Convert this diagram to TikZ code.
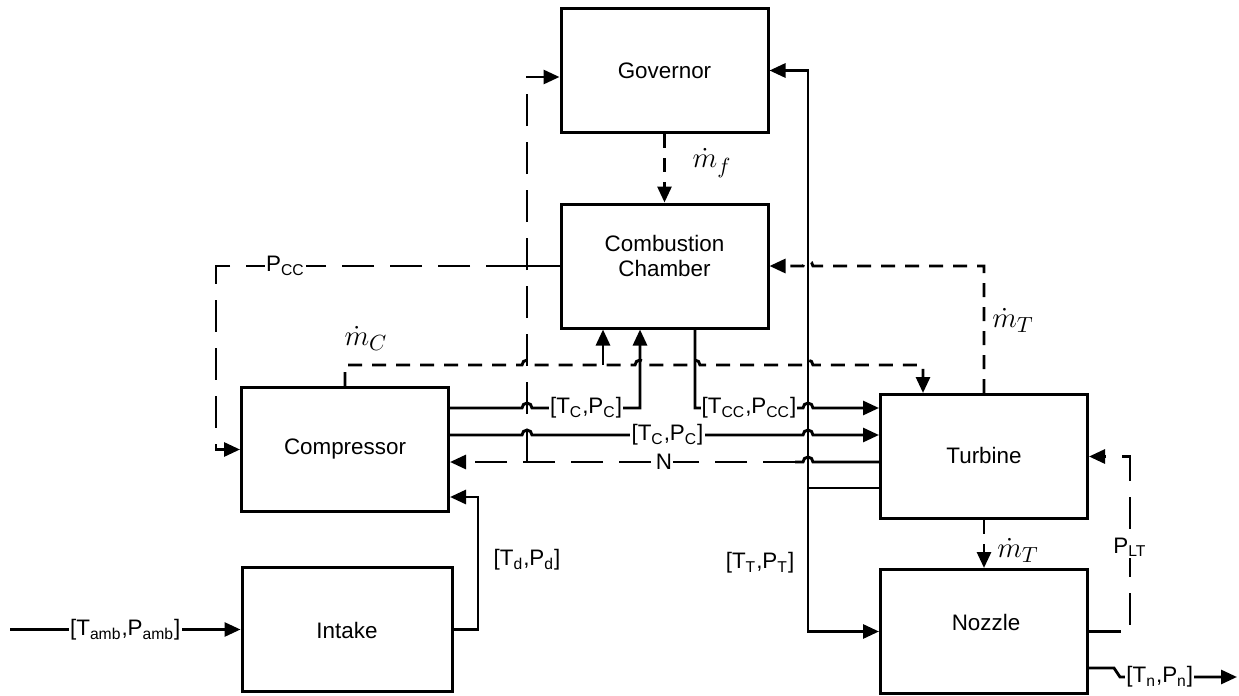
\documentclass[tikz,border=0pt]{standalone}
\usepackage{fontspec}
\setmainfont{Liberation Sans}
\usetikzlibrary{arrows.meta,calc}
\begin{document}
\begin{tikzpicture}[x=0.5pt,y=0.5pt,
  box/.style={draw,line width=1.5pt,minimum width=103.5pt,minimum height=62pt,inner sep=0pt},
  txt/.style={font=\fontsize{11.2}{12.5}\selectfont,inner sep=1pt},
  lbl/.style={font=\fontsize{11.2}{13}\selectfont,fill=white,inner sep=0.6pt},
  plbl/.style={font=\fontsize{11.2}{13}\selectfont,inner sep=0.6pt},
  wire/.style={line width=1.45pt},
  arr/.style={-{Triangle[length=8pt,width=7pt]}},
  sdash/.style={dash pattern=on 7pt off 5pt},
  ldash/.style={dash pattern=on 16pt off 8pt},
  mlbl/.style={font=\fontsize{15}{17}\selectfont,inner sep=0pt}
]
\useasboundingbox (0,0) rectangle (1239,-696);

% boxes
\node[box] (gov) at (664.5,-70.5) {};
\node[txt] (govt) at (664.5,-71) {Governor};
\node[box] (cc) at (664.5,-266) {};
\node[txt,align=center] (cct) at (664.5,-256) {Combustion\\Chamber};
\node[box] (comp) at (345,-449.5) {};
\node[txt] (compt) at (345,-449) {Compressor};
\node[box,minimum width=105pt] (intk) at (347,-629.5) {};
\node[txt] (intkt) at (347,-630) {Intake};
\node[box] (turb) at (984,-456.5) {};
\node[txt] (turbt) at (984,-455) {Turbine};
\node[box] (noz) at (984,-631.5) {};
\node[txt] (nozt) at (986,-622) {Nozzle};

% coordinates
\coordinate (src) at (10,-629.5);
\coordinate (tdc) at (478,-497);
\coordinate (nj) at (527,-462);
\coordinate (gj) at (527,-77);
\coordinate (mc1) at (345,-365);
\coordinate (mc2) at (923,-365);
\coordinate (mcj) at (603,-365);
\coordinate (tc1) at (640,-408);
\coordinate (tc2y) at (0,-435);
\coordinate (tcc) at (695,-408);
\coordinate (tt) at (808,-488);
\coordinate (pc0) at (518,-266);
\coordinate (pc1) at (216,-266);
\coordinate (pl) at (1130,-456.5);
\coordinate (tn1) at (1114,-668);
\coordinate (tn2) at (1237,-677);

% ambient -> intake
\draw[wire,arr] (src) -- node[lbl,name=lamb]{[T\textsubscript{amb},P\textsubscript{amb}]} (intk.west);
% intake -> compressor
\draw[wire,arr] (intk.east) -| (tdc) -- (tdc -| comp.east);
\node[plbl] (ltd) at (527,-560) {[T\textsubscript{d},P\textsubscript{d}]};

% N : turbine -> compressor and governor
\draw[wire] (turb.west |- nj) -- (813,-462) arc[start angle=0,end angle=180,radius=2.5pt] -- (795,-462);
\draw[wire,ldash,arr] (795,-462) -- node[lbl,pos=0.38,name=ln]{N} (comp.east |- nj);
\draw[wire,ldash,arr] (nj) -- (gj) -- (gj -| gov.west);

% mdot_C : compressor -> turbine and combustion chamber
\draw[wire,sdash,arr] (comp.north) -- (mc1) -- (522,-365)
  arc[start angle=180,end angle=0,radius=2.5pt] -- (635,-365)
  arc[start angle=180,end angle=0,radius=2.5pt] -- (690,-365)
  arc[start angle=180,end angle=0,radius=2.5pt] -- (803,-365)
  arc[start angle=180,end angle=0,radius=2.5pt] -- (mc2) -- (mc2 |- turb.north);
\draw[wire,arr] (mcj) -- (mcj |- cc.south);
\node[mlbl] (lmc) at (366,-338) {$\dot{m}_C$};

% [Tc,Pc] compressor -> combustion chamber
\draw[wire,arr] (comp.east |- tc1) -- (522,-408)
  arc[start angle=180,end angle=0,radius=2.5pt]
  -- node[lbl,name=ltc1]{[T\textsubscript{C},P\textsubscript{C}]} (tc1) -- (tc1 |- cc.south);

% [Tc,Pc] compressor -> turbine
\draw[wire,arr] (comp.east |- tc2y) -- (522,-435)
  arc[start angle=180,end angle=0,radius=2.5pt]
  -- node[lbl,name=ltc2]{[T\textsubscript{C},P\textsubscript{C}]} (803,-435)
  arc[start angle=180,end angle=0,radius=2.5pt] -- (turb.west |- tc2y);

% [Tcc,Pcc] combustion chamber -> turbine
\draw[wire,arr] (cc.south -| tcc) -- (tcc)
  -- node[lbl,name=ltcc]{[T\textsubscript{CC},P\textsubscript{CC}]} (803,-408)
  arc[start angle=180,end angle=0,radius=2.5pt] -- (turb.west |- tcc);

% [Tt,Pt] turbine -> governor and nozzle
\draw[wire] (turb.west |- tt) -- (tt);
\draw[wire,arr] (tt) |- (gov.east);
\draw[wire,arr] (tt) |- (noz.west);
\node[plbl] (ltt) at (760,-563) {[T\textsubscript{T},P\textsubscript{T}]};

% mdot_T : turbine -> combustion chamber
\draw[wire,sdash,arr] (turb.north) -- (turb.north |- cc.east) -- (813,-266)
  arc[start angle=0,end angle=180,radius=2.5pt] -- (cc.east);
\node[mlbl] (lmt1) at (1013,-320) {$\dot{m}_T$};

% mdot_f : governor -> combustion chamber
\draw[wire,sdash,arr] (gov.south) -- (cc.north);
\node[mlbl] (lmf) at (712,-163) {$\dot{m}_f$};

% mdot_T : turbine -> nozzle
\draw[wire,sdash,arr] (turb.south) -- (noz.north);
\node[mlbl] (lmt2) at (1018,-550) {$\dot{m}_T$};

% P_LT : nozzle -> turbine
\draw[wire,ldash,arr] (noz.east) -| (pl) -- (turb.east);
\node[lbl] (lplt) at (1130,-547) {P\textsubscript{LT}};

% P_CC : combustion chamber -> compressor
\draw[wire] (cc.west) -- (pc0);
\draw[wire,ldash,arr] (pc0) -- node[lbl,pos=0.77,name=lpcc]{P\textsubscript{CC}} (pc1) |- (comp.west);

% nozzle output
\draw[wire,arr] (noz.east |- tn1) -- (tn1) -- (1120,-677)
  -- node[lbl,pos=0.34,name=ltn]{[T\textsubscript{n},P\textsubscript{n}]} (tn2);
\end{tikzpicture}
\end{document}
